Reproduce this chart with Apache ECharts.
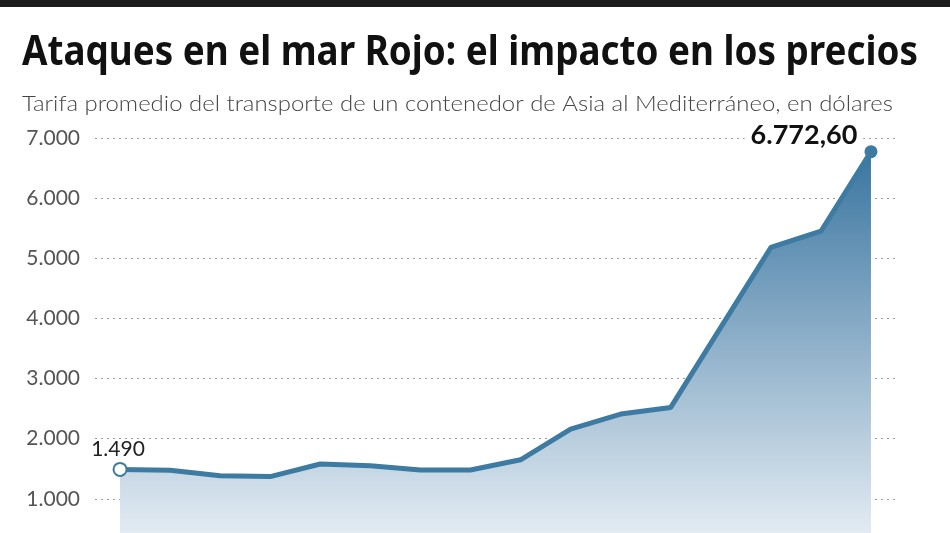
<!DOCTYPE html>
<html>
<head>
<meta charset="utf-8">
<script src="https://cdn.jsdelivr.net/npm/echarts@6/dist/echarts.min.js"></script>
<style>html,body{margin:0;padding:0;background:#fff;}#c{width:950px;height:533px;}</style>
</head>
<body>
<div id="c"></div>
<script>
var titleText = 'Ataques en el mar Rojo: el impacto en los precios';
var subtitleText = 'Tarifa promedio del transporte de un contenedor de Asia al Mediterráneo, en dólares';
var weeks = ['S1','S2','S3','S4','S5','S6','S7','S8','S9','S10','S11','S12','S13','S14','S15','S16'];
var prices = [1490, 1475, 1385, 1370, 1580, 1550, 1480, 1480, 1650, 2160, 2410, 2520, 3850, 5180, 5450, 6772.6];
var yTicks = [0, 1000, 2000, 3000, 4000, 5000, 6000, 7000];

var lineColor = '#3e7ba3';
var last = prices.length - 1;
function fmtNum(v) {
  var parts = v.toFixed(v % 1 === 0 ? 0 : 2).split('.');
  var intPart = parts[0].replace(/\B(?=(\d{3})+(?!\d))/g, '.');
  return parts.length > 1 ? intPart + ',' + parts[1] : intPart;
}
function fitScale(text, font, target) {
  var cv = document.createElement('canvas').getContext('2d');
  cv.font = font;
  return target / cv.measureText(text).width;
}
var titleFont = 'bold 42px "Noto Sans"';
var subFont = '300 21px Lato';

var seriesData = prices.map(function (v, i) {
  var item = { value: v, symbolSize: 0 };
  if (i === 0) {
    item.symbolSize = 13;
    item.itemStyle = { color: '#ffffff', borderColor: lineColor, borderWidth: 2 };
    item.label = { show: true, position: 'top', offset: [-2, 3], fontFamily: 'Lato', fontSize: 21, color: '#222', formatter: function (p) { return fmtNum(p.value); } };
  } else if (i === last) {
    item.symbolSize = 13;
    item.itemStyle = { color: lineColor, borderColor: lineColor, borderWidth: 0 };
    item.label = { show: true, position: 'top', offset: [-67, 9], fontFamily: 'Lato', fontWeight: 'bold', fontSize: 27, color: '#111', backgroundColor: '#ffffff', padding: [0, 6], formatter: function (p) { return fmtNum(p.value); } };
  }
  return item;
});

function draw() {
  var tScale = fitScale(titleText, titleFont, 896);
  var sScale = fitScale(subtitleText, subFont, 871);
  var chart = echarts.init(document.getElementById('c'), null, { renderer: 'canvas' });
  chart.setOption({
    animation: false,
    backgroundColor: '#ffffff',
    graphic: [
      { type: 'rect', left: 0, top: 0, shape: { width: 950, height: 7 }, style: { fill: '#1c1c1c' } },
      { type: 'text', x: 22, y: 53, scaleX: tScale, style: { text: titleText, font: titleFont, fill: '#111', textVerticalAlign: 'middle' } },
      { type: 'text', x: 22, y: 104, scaleX: sScale, style: { text: subtitleText, font: subFont, fill: '#444', textVerticalAlign: 'middle' } }
    ],
    grid: { left: 95, right: 54, top: 138, bottom: -26, outerBoundsMode: 'none', containLabel: false },
    xAxis: { type: 'category', data: weeks, boundaryGap: true, show: false },
    yAxis: {
      type: 'value', min: yTicks[0], max: yTicks[yTicks.length - 1], interval: 1000,
      axisLine: { show: false }, axisTick: { show: false },
      axisLabel: { margin: 15, fontFamily: 'Lato', fontSize: 21, color: '#555', formatter: function (v) { return v === 0 ? '' : fmtNum(v); } },
      splitLine: { show: true, lineStyle: { type: [2, 4], color: '#9a9a9a', width: 1 } }
    },
    series: [{
      type: 'line', data: seriesData, symbol: 'circle', showSymbol: true,
      lineStyle: { color: lineColor, width: 5 },
      itemStyle: { color: lineColor },
      areaStyle: { color: { type: 'linear', x: 0, y: 0, x2: 0, y2: 1, colorStops: [ { offset: 0, color: '#3a75a0' }, { offset: 1, color: '#eef3f8' } ] }, opacity: 1 },
      z: 3
    }]
  });
}
if (document.fonts && document.fonts.load) {
  Promise.all([document.fonts.load(titleFont), document.fonts.load(subFont)]).then(draw, draw);
} else { draw(); }
</script>
</body>
</html>
